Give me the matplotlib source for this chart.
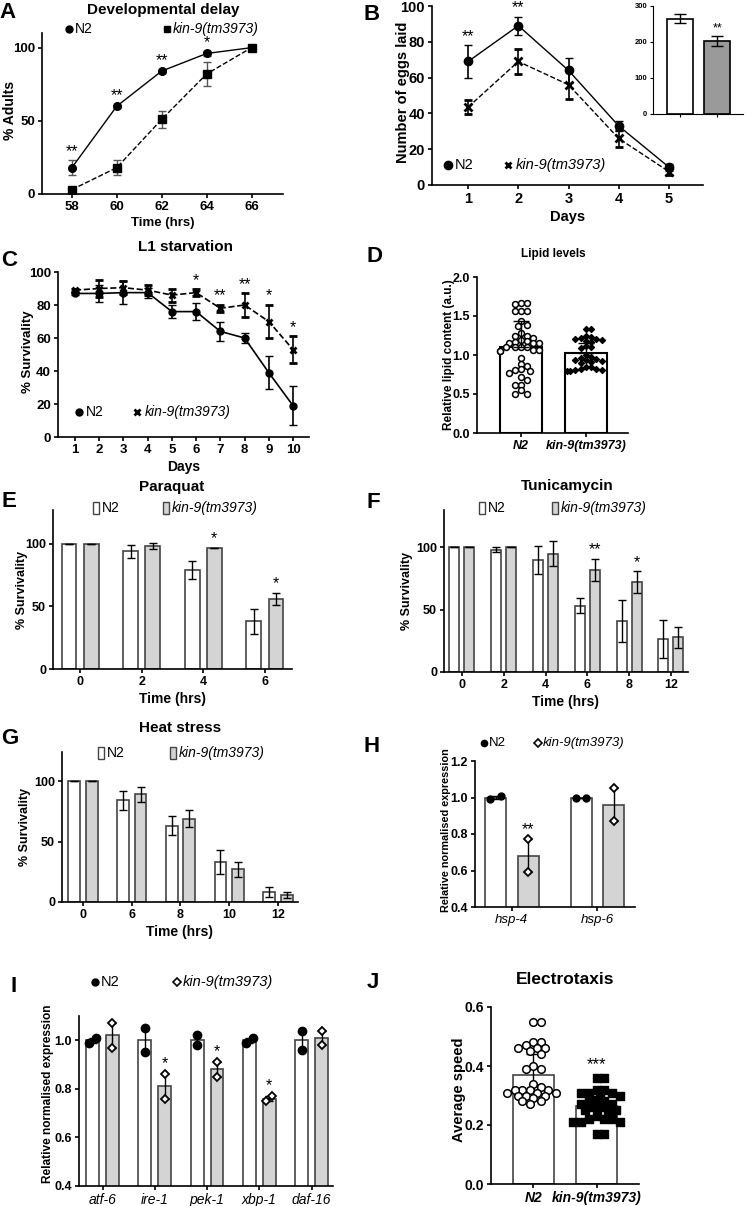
import numpy as np
import matplotlib.pyplot as plt
from matplotlib.lines import Line2D
from matplotlib.patches import Rectangle

plt.rcParams['font.family'] = ['Liberation Sans', 'DejaVu Sans']
plt.rcParams['font.weight'] = 'bold'
plt.rcParams['axes.labelweight'] = 'bold'

# ---- data ----
# A developmental delay
A_time = [58, 60, 62, 64, 66]
A_n2 = [18, 60, 84, 96, 100]
A_n2_err = [5, 1, 1, 1.5, 0]
A_kin = [3, 18, 51, 82, 100]
A_kin_err = [1, 5, 6, 8, 0]
A_stars = ['**', '**', '**', '*', '']

# B egg laying
B_days = [1, 2, 3, 4, 5]
B_n2 = [69, 89, 64, 33, 10]
B_n2_err = [9, 5, 7, 3, 2]
B_kin = [43.5, 69, 56, 26, 7.5]
B_kin_err = [4, 7, 8, 5, 2]
B_stars = ['**', '**', '', '', '']
B_total = [265, 202]
B_total_err = [12, 14]

# C L1 starvation
C_days = [1, 2, 3, 4, 5, 6, 7, 8, 9, 10]
C_n2 = [87, 87, 87.5, 87.5, 76, 76, 64, 60, 39, 19]
C_n2_err = [1, 5, 7, 3, 4, 5, 6, 3, 10, 12]
C_kin = [89, 90, 90.5, 89, 86, 87.5, 78, 80, 70, 53]
C_kin_err = [1, 5, 4, 3, 4, 2, 2, 7, 10, 8]
C_stars = ['', '', '', '', '', '*', '**', '**', '*', '*']

# D lipid levels
D_groups = ['N2', 'kin-9(tm3973)']
D_mean = [1.10, 1.03]
D_sd = [0.33, 0.13]
D_n2_pts = [1.67, 1.67, 1.66, 1.57, 1.57, 1.57, 1.43, 1.39, 1.37, 1.28, 1.25,
            1.24, 1.22, 1.19, 1.18, 1.17, 1.16, 1.15, 1.15, 1.10, 1.10, 1.10,
            1.10, 1.06, 1.06, 1.05, 1.05, 0.96, 0.89, 0.86, 0.82, 0.81, 0.80,
            0.77, 0.72, 0.68, 0.62, 0.62, 0.55, 0.50, 0.50]
D_kin_pts = [1.33, 1.33, 1.24, 1.23, 1.22, 1.21, 1.20, 1.19, 1.18, 1.17, 1.12,
             1.10, 1.09, 1.00, 0.97, 0.96, 0.95, 0.94, 0.93, 0.92, 0.91, 0.90,
             0.85, 0.84, 0.82, 0.82, 0.81, 0.81, 0.80, 0.80]

# E paraquat
E_time = ['0', '2', '4', '6']
E_n2 = [100, 94, 79, 38]
E_n2_err = [0, 5, 7, 10]
E_kin = [100, 98.5, 97, 56]
E_kin_err = [0, 2.5, 0, 5]
E_stars = ['', '', '*', '*']

# F tunicamycin
F_time = ['0', '2', '4', '6', '8', '12']
F_n2 = [100, 98, 90, 53, 41, 26.5]
F_n2_err = [0, 2, 11, 6, 17, 15.5]
F_kin = [100, 100, 95, 82, 72, 28]
F_kin_err = [0, 0, 10, 9, 9, 8.5]
F_stars = ['', '', '', '**', '*', '']

# G heat stress
G_time = ['0', '6', '8', '10', '12']
G_n2 = [100, 84, 63, 33, 8]
G_n2_err = [0, 8, 8, 10, 4]
G_kin = [100, 89, 69, 27, 6]
G_kin_err = [0, 6, 7, 6, 2.5]

# H heat shock genes
H_genes = ['hsp-4', 'hsp-6']
H_n2_pts = [[0.99, 1.01], [1.0, 1.0]]
H_kin_pts = [[0.77, 0.59], [1.05, 0.87]]
H_stars = ['**', '']

# I UPR genes
I_genes = ['atf-6', 'ire-1', 'pek-1', 'xbp-1', 'daf-16']
I_n2_pts = [[0.99, 1.01], [1.05, 0.95], [1.02, 0.98], [0.99, 1.01], [1.04, 0.96]]
I_kin_pts = [[1.07, 0.97], [0.86, 0.76], [0.91, 0.85], [0.75, 0.77], [1.04, 0.98]]
I_stars = ['', '*', '*', '*', '']

# J electrotaxis
J_groups = ['N2', 'kin-9(tm3973)']
J_mean = [0.37, 0.265]
J_sd = [0.07, 0.035]
J_n2_pts = [0.55, 0.55, 0.48, 0.48, 0.47, 0.46, 0.46, 0.46, 0.45, 0.44, 0.40,
            0.39, 0.39, 0.34, 0.33, 0.32, 0.32, 0.32, 0.32, 0.31, 0.31, 0.31,
            0.30, 0.30, 0.30, 0.29, 0.28, 0.28, 0.27]
J_kin_pts = [0.36, 0.36, 0.32, 0.32, 0.31, 0.31, 0.31, 0.30, 0.30, 0.28, 0.28,
             0.28, 0.27, 0.27, 0.26, 0.26, 0.25, 0.25, 0.25, 0.23, 0.22, 0.22,
             0.22, 0.21, 0.21, 0.21, 0.17, 0.17]

GREY = '#d4d4d4'
EDGE = '#444444'

W, H = 747, 1206
fig = plt.figure(figsize=(7.47, 12.06), dpi=100)


def box(x0, y0, x1, y1):
    return [x0 / W, 1 - y1 / H, (x1 - x0) / W, (y1 - y0) / H]


def ftext(x, y, s, fs, **kw):
    fig.text(x / W, 1 - y / H, s, fontsize=fs, va='center', **kw)


def ylab(x, y, s, fs):
    fig.text(x / W, 1 - y / H, s, fontsize=fs, va='center', ha='center',
             rotation=90)


def style(ax, fs):
    for s in ['top', 'right']:
        ax.spines[s].set_visible(False)
    for s in ['left', 'bottom']:
        ax.spines[s].set_linewidth(1.2)
    ax.tick_params(width=1.2, length=3, labelsize=fs, pad=2)


def leg_marker(x, y, marker, ms=6, mfc='black', mew=1):
    fig.add_artist(Line2D([x / W], [1 - y / H], transform=fig.transFigure,
                          marker=marker, ms=ms, color='black', mfc=mfc,
                          mew=mew, ls='none'))


def leg_rect(x, y, fc):
    fig.add_artist(Rectangle(((x - 3) / W, 1 - (y + 6) / H), 6 / W, 12 / H,
                             transform=fig.transFigure, fc=fc, ec=EDGE, lw=1))


def star(ax, x, y, s, fs=11.5, pad=1):
    if s:
        ax.annotate(s, (x, y), xytext=(0, pad), textcoords='offset points',
                    ha='center', va='bottom', fontsize=fs, fontweight='normal')


def swarm(vals, sx, sy, d):
    vals = np.asarray(vals, float)
    xs = np.zeros(len(vals))
    done = []
    for i in np.argsort(-vals):
        y = vals[i] * sy
        for k in [0, 1, -1, 2, -2, 3, -3, 4, -4, 5, -5, 6, -6, 7, -7]:
            x = k * d * 0.55
            if all((x - px) ** 2 + (y - py) ** 2 >= (0.95 * d) ** 2 for px, py in done):
                break
        done.append((x, y))
        xs[i] = x / sx
    return xs


def grouped(ax, labels, n2, n2e, kin, kine, stars=None):
    x = np.arange(len(labels))
    ekw = dict(elinewidth=1, capthick=1, ecolor='black')
    ax.bar(x - 0.18, n2, 0.24, color='white', edgecolor=EDGE, lw=1.2,
           yerr=n2e, capsize=3, error_kw=ekw)
    ax.bar(x + 0.18, kin, 0.24, color=GREY, edgecolor=EDGE, lw=1.2,
           yerr=kine, capsize=3, error_kw=ekw)
    if stars:
        for i, s in enumerate(stars):
            star(ax, x[i] + 0.18, kin[i] + kine[i], s)
    ax.set_xticks(x)
    ax.set_xticklabels(labels)


# ---- A ----
ax = fig.add_axes(box(42, 33, 283, 194))
ax.errorbar(A_time, A_n2, yerr=A_n2_err, fmt='-o', color='black', ms=5.5,
            lw=1, capsize=3, ecolor='#555555', elinewidth=1)
ax.errorbar(A_time, A_kin, yerr=A_kin_err, fmt='--s', color='black', ms=5.5,
            lw=1, capsize=3, ecolor='#555555', elinewidth=1)
for t, v, e, s in zip(A_time, A_n2, A_n2_err, A_stars):
    star(ax, t, v + e, s)
ax.set_xlim(56.67, 67.4)
ax.set_ylim(0, 110)
ax.set_xticks(A_time)
ax.set_yticks([0, 50, 100])
style(ax, 9.5)
ax.set_xlabel('Time (hrs)', fontsize=9.5, labelpad=3)
ylab(10, 110, '% Adults', 10)
ftext(163, 10, 'Developmental delay', 11, ha='center')
leg_marker(69, 29, 'o', ms=5)
ftext(75, 29, 'N2', 10, fontweight='normal')
leg_marker(167, 29, 's', ms=5)
ftext(173, 29, 'kin-9(tm3973)', 10, fontweight='normal', style='italic')

# ---- B ----
ax = fig.add_axes(box(432, 6, 703, 185))
ax.errorbar(B_days, B_n2, yerr=B_n2_err, fmt='-o', color='black', ms=6,
            lw=1, capsize=3, elinewidth=1.2)
ax.errorbar(B_days, B_kin, yerr=B_kin_err, fmt='--x', color='black', ms=6,
            mew=2, lw=1, capsize=3, elinewidth=1.2)
for d, v, e, s in zip(B_days, B_n2, B_n2_err, B_stars):
    star(ax, d, v + e, s)
ax.set_xlim(0.28, 5.68)
ax.set_ylim(0, 100)
ax.set_xticks(B_days)
ax.set_yticks(range(0, 101, 20))
style(ax, 10.5)
ax.set_xlabel('Days', fontsize=10.5, labelpad=3)
ylab(403, 92, 'Number of eggs laid', 10.5)
leg_marker(448, 165, 'o', ms=6)
ftext(455, 165, 'N2', 10.5, fontweight='normal')
leg_marker(508, 165, 'x', ms=5, mew=2)
ftext(516, 165, 'kin-9(tm3973)', 10.5, fontweight='normal', style='italic')

ax = fig.add_axes(box(653, 6, 743, 114))
ax.bar([0, 1], B_total, 0.7, color=['white', '#9a9a9a'], edgecolor='black',
       lw=1.2, yerr=B_total_err, capsize=4, error_kw=dict(elinewidth=1))
star(ax, 1, B_total[1] + B_total_err[1], '**', fs=9)
ax.set_xlim(-0.74, 1.69)
ax.set_ylim(0, 300)
ax.set_xticks([0, 1])
ax.set_xticklabels([])
ax.set_yticks([0, 100, 200, 300])
style(ax, 5.5)
ax.tick_params(length=2, width=0.8)
for s in ['left', 'bottom']:
    ax.spines[s].set_linewidth(0.8)

# ---- C ----
ax = fig.add_axes(box(58, 272, 309, 437))
ax.errorbar(C_days, C_n2, yerr=C_n2_err, fmt='-o', color='black', ms=5,
            lw=1.2, capsize=3, elinewidth=1.2)
ax.errorbar(C_days, C_kin, yerr=C_kin_err, fmt='--x', color='black', ms=5,
            mew=2, lw=1.2, capsize=3, elinewidth=1.2)
for d, v, e, s in zip(C_days, C_kin, C_kin_err, C_stars):
    star(ax, d, v + e, s)
ax.set_xlim(0.3, 10.66)
ax.set_ylim(0, 100)
ax.set_xticks(C_days)
ax.set_yticks(range(0, 101, 20))
style(ax, 9.5)
ax.set_xlabel('Days', fontsize=10, labelpad=3)
ylab(28, 352, '% Survivality', 9.5)
ftext(185, 247, 'L1 starvation', 11, ha='center')
leg_marker(79, 412, 'o', ms=5)
ftext(86, 412, 'N2', 10, fontweight='normal')
leg_marker(137, 412, 'x', ms=4.5, mew=2)
ftext(145, 412, 'kin-9(tm3973)', 10, fontweight='normal', style='italic')

# ---- D ----
ax = fig.add_axes(box(477, 277, 628, 433))
ax.bar([0, 1], D_mean, 0.65, color='white', edgecolor='black', lw=1.5, zorder=1)
ax.scatter(0 + swarm(D_n2_pts, 65, 78, 5.4), D_n2_pts, s=18, facecolor='white',
           edgecolor='black', lw=1.1, zorder=2)
ax.scatter(1 + swarm(D_kin_pts, 65, 78, 4.8), D_kin_pts, s=9, marker='D',
           color='black', zorder=2)
ax.errorbar([0, 1], D_mean, yerr=[[0, 0], D_sd], fmt='none', ecolor='black',
            elinewidth=1, capsize=6, zorder=3)
ax.set_xlim(-0.68, 1.65)
ax.set_ylim(0, 2)
ax.set_xticks([0, 1])
ax.set_xticklabels(D_groups, style='italic')
ax.set_yticks([0, 0.5, 1.0, 1.5, 2.0])
ax.set_yticklabels(['0.0', '0.5', '1.0', '1.5', '2.0'])
style(ax, 9)
ylab(449, 355, 'Relative lipid content (a.u.)', 8.5)
ftext(553, 254, 'Lipid levels', 8.5, ha='center')

# ---- E ----
ax = fig.add_axes(box(53, 510, 292, 669))
grouped(ax, E_time, E_n2, E_n2_err, E_kin, E_kin_err, E_stars)
ax.set_xlim(-0.44, 3.44)
ax.set_ylim(0, 127)
ax.set_yticks([0, 50, 100])
style(ax, 9)
ax.set_xlabel('Time (hrs)', fontsize=10, labelpad=3)
ylab(22, 590, '% Survivality', 9)
ftext(172, 487, 'Paraquat', 11, ha='center')
leg_rect(96, 508, 'white')
ftext(102, 508, 'N2', 10, fontweight='normal')
leg_rect(166, 508, GREY)
ftext(172, 508, 'kin-9(tm3973)', 10, fontweight='normal', style='italic')

# ---- F ----
ax = fig.add_axes(box(444, 510, 688, 672))
grouped(ax, F_time, F_n2, F_n2_err, F_kin, F_kin_err, F_stars)
ax.set_xlim(-0.43, 5.41)
ax.set_ylim(0, 130)
ax.set_yticks([0, 50, 100])
style(ax, 9)
ax.set_xlabel('Time (hrs)', fontsize=10, labelpad=3)
ylab(407, 591, '% Survivality', 9)
ftext(567, 486, 'Tunicamycin', 11, ha='center')
leg_rect(482, 508, 'white')
ftext(488, 508, 'N2', 10, fontweight='normal')
leg_rect(555, 508, GREY)
ftext(561, 508, 'kin-9(tm3973)', 10, fontweight='normal', style='italic')

# ---- G ----
ax = fig.add_axes(box(62, 752, 298, 902))
grouped(ax, G_time, G_n2, G_n2_err, G_kin, G_kin_err)
ax.set_xlim(-0.43, 4.41)
ax.set_ylim(0, 124)
ax.set_yticks([0, 50, 100])
style(ax, 9)
ax.set_xlabel('Time (hrs)', fontsize=10, labelpad=3)
ylab(25, 827, '% Survivality', 9)
ftext(180, 728, 'Heat stress', 11, ha='center')
leg_rect(101, 753, 'white')
ftext(107, 753, 'N2', 10, fontweight='normal')
leg_rect(173, 753, GREY)
ftext(179, 753, 'kin-9(tm3973)', 10, fontweight='normal', style='italic')


def qpcr(ax, genes, n2_pts, kin_pts, stars, ms):
    ekw = dict(elinewidth=1, capthick=1, ecolor='black')
    for j, (pts, off, fc, mk) in enumerate([(n2_pts, -0.19, 'white', 'o'),
                                             (kin_pts, 0.19, GREY, 'D')]):
        means = [np.mean(p) for p in pts]
        sems = [np.std(p) for p in pts]
        x = np.arange(len(genes)) + off
        ax.bar(x, means, 0.245, color=fc, edgecolor=EDGE, lw=1.2, zorder=1)
        ax.errorbar(x, means, yerr=sems, fmt='none', capsize=3, zorder=2, **ekw)
        for xi, p in zip(x, pts):
            dx = [-0.06, 0.06] if abs(p[0] - p[1]) < 0.03 else [0, 0]
            if mk == 'o':
                ax.plot(xi + np.array(dx), p, 'o', color='black', ms=ms, zorder=3)
            else:
                ax.plot(xi + np.array(dx), p, 'D', mfc='white', mec='black',
                        mew=1.3, ms=ms * 0.75, zorder=3)
        if j == 1:
            for xi, p, s in zip(x, pts, stars):
                star(ax, xi, max(p), s, pad=2)
    ax.set_xticks(np.arange(len(genes)))
    ax.set_xticklabels(genes, style='italic', fontweight='normal')


# ---- H ----
ax = fig.add_axes(box(475, 761, 635, 907))
qpcr(ax, H_genes, H_n2_pts, H_kin_pts, H_stars, 5)
ax.set_xlim(-0.43, 1.44)
ax.set_ylim(0.4, 1.2)
ax.set_yticks([0.4, 0.6, 0.8, 1.0, 1.2])
ax.set_yticklabels(['0.4', '0.6', '0.8', '1.0', '1.2'])
style(ax, 9)
ax.tick_params(axis='x', labelsize=9.5)
ylab(446, 830, 'Relative normalised expression', 7.8)
leg_marker(484, 743, 'o', ms=4.5)
ftext(489, 743, 'N2', 9.5, fontweight='normal')
leg_marker(538, 743, 'D', ms=4, mfc='white', mew=1.2)
ftext(543, 743, 'kin-9(tm3973)', 9.5, fontweight='normal', style='italic')

# ---- I ----
ax = fig.add_axes(box(79, 1016, 333, 1186))
qpcr(ax, I_genes, I_n2_pts, I_kin_pts, I_stars, 6)
ax.set_xlim(-0.45, 4.41)
ax.set_ylim(0.4, 1.1)
ax.set_yticks([0.4, 0.6, 0.8, 1.0])
ax.set_yticklabels(['0.4', '0.6', '0.8', '1.0'])
style(ax, 9)
ax.tick_params(axis='x', labelsize=10)
ylab(48, 1094, 'Relative normalised expression', 8.6)
leg_marker(95, 982, 'o', ms=5)
ftext(101, 982, 'N2', 10.5, fontweight='normal')
leg_marker(177, 982, 'D', ms=4.5, mfc='white', mew=1.2)
ftext(183, 982, 'kin-9(tm3973)', 10.5, fontweight='normal', style='italic')

# ---- J ----
ax = fig.add_axes(box(491, 1007, 639, 1184))
ax.bar([0, 1], J_mean, 0.65, color='white', edgecolor=EDGE, lw=1.2, zorder=1)
ax.errorbar([0, 1], J_mean, yerr=J_sd, fmt='none', ecolor='black',
            elinewidth=1, capsize=5, zorder=2)
ax.scatter(0 + swarm(J_n2_pts, 63, 295, 6.8), J_n2_pts, s=30, facecolor='white',
           edgecolor='black', lw=1.1, zorder=3)
ax.scatter(1 + swarm(J_kin_pts, 63, 295, 7), J_kin_pts, s=26, marker='s',
           color='black', zorder=3)
star(ax, 1, J_mean[1] + J_sd[1] + 0.075, '***', fs=12)
ax.set_xlim(-0.67, 1.67)
ax.set_ylim(0, 0.6)
ax.set_xticks([0, 1])
ax.set_xticklabels(J_groups, style='italic')
ax.set_yticks([0, 0.2, 0.4, 0.6])
ax.set_yticklabels(['0.0', '0.2', '0.4', '0.6'])
style(ax, 10)
ax.tick_params(axis='x', labelsize=10)
ylab(459, 1090, 'Average speed', 10.5)
ftext(565, 979, 'Electrotaxis', 12.5, ha='center')

# panel letters
for letter, x, y in [('A', 8, 13), ('B', 372, 14), ('C', 9, 261), ('D', 374, 257),
                     ('E', 9, 501), ('F', 373, 502), ('G', 10, 738),
                     ('H', 372, 747), ('I', 14, 986), ('J', 373, 983)]:
    ftext(x, y, letter, 16, ha='center')

fig.savefig('out.png', dpi=100)
